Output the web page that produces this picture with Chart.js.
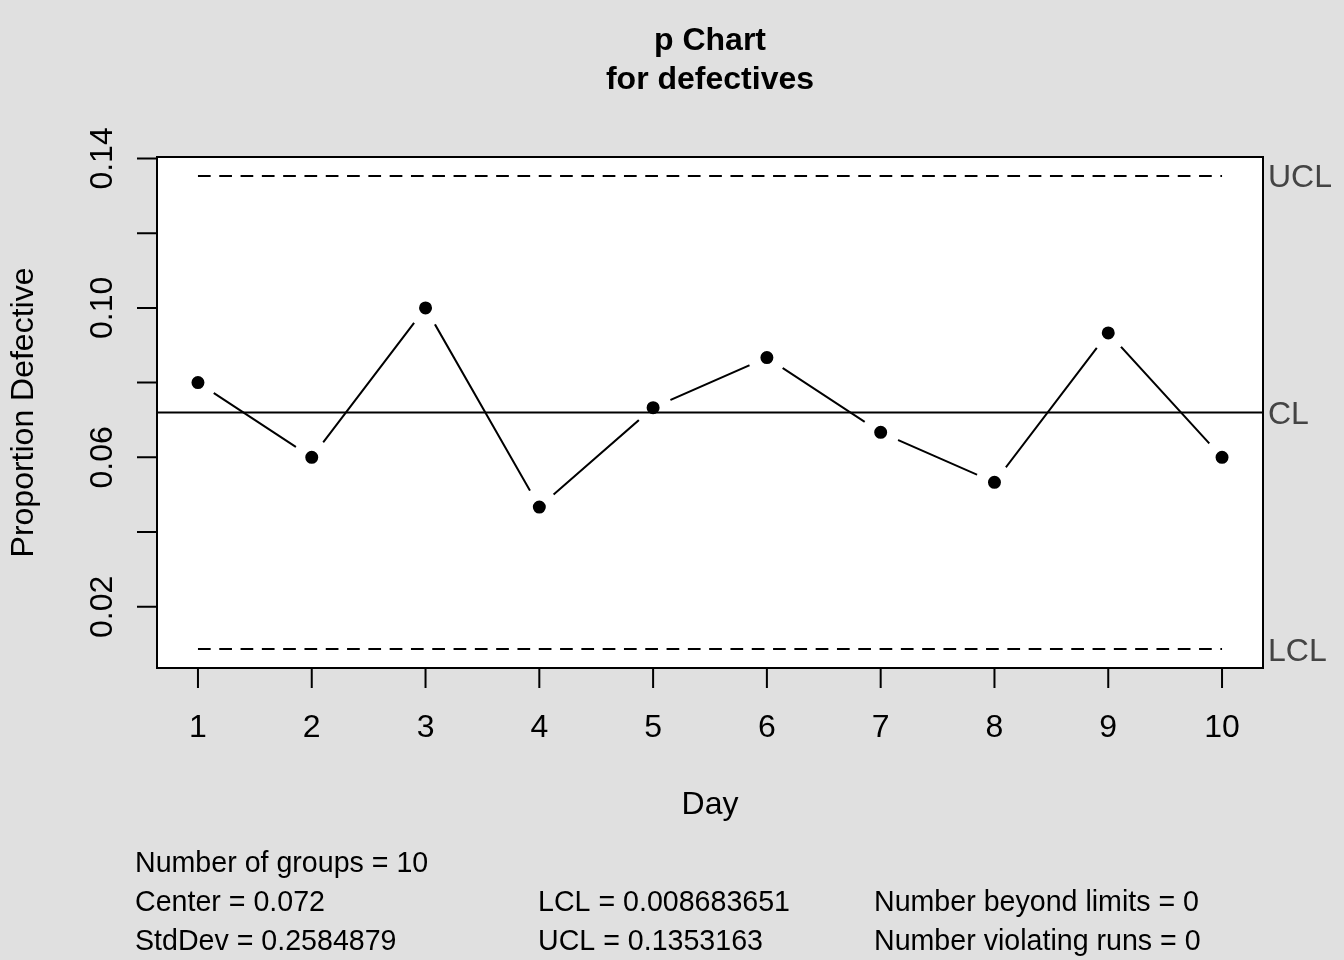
<!DOCTYPE html>
<html>
<head>
<meta charset="utf-8">
<title>p Chart for defectives</title>
<script src="https://cdn.jsdelivr.net/npm/chart.js@4.4.1/dist/chart.umd.min.js"></script>
<style>
  html, body { margin: 0; padding: 0; background: #e0e0e0; }
  canvas { display: block; }
</style>
</head>
<body>
<canvas id="pChart" width="1344" height="960"></canvas>
<script>
// values
const days = [1, 2, 3, 4, 5, 6, 7, 8, 9, 10];
const proportions = [0.0800, 0.0600, 0.1000, 0.0467, 0.0733, 0.0867, 0.0667, 0.0533, 0.0933, 0.0600];
const centerLine = 0.072;
const lowerLimit = 0.008683651;
const upperLimit = 0.1353163;

const yTicks = [0.02, 0.04, 0.06, 0.08, 0.10, 0.12, 0.14];
const yTickLabels = ['0.02', '', '0.06', '', '0.10', '', '0.14'];
const xTickLabels = ['1', '2', '3', '4', '5', '6', '7', '8', '9', '10'];

const limitLabels = ['UCL', 'CL', 'LCL'];
const limitValues = [upperLimit, centerLine, lowerLimit];

const statsCol1 = ['Number of groups = 10', 'Center = 0.072', 'StdDev = 0.2584879'];
const statsCol2 = ['', 'LCL = 0.008683651', 'UCL = 0.1353163'];
const statsCol3 = ['', 'Number beyond limits = 0', 'Number violating runs = 0'];

const FONT = '"Liberation Sans", Arial, Helvetica, sans-serif';

// R-style axes, box, labels and summary text
const baseGraphics = {
  id: 'baseGraphics',
  beforeDatasetsDraw(chart) {
    const { ctx, chartArea: a } = chart;
    ctx.save();
    ctx.fillStyle = '#ffffff';
    ctx.fillRect(a.left, a.top, a.right - a.left, a.bottom - a.top);
    ctx.restore();
  },
  afterDraw(chart) {
    const { ctx, chartArea: a } = chart;
    const xs = chart.scales.x;
    const ys = chart.scales.y;
    const midX = (a.left + a.right) / 2;
    ctx.save();
    ctx.strokeStyle = '#000';
    ctx.fillStyle = '#000';
    ctx.lineWidth = 2;

    // box
    ctx.strokeRect(a.left, a.top, a.right - a.left, a.bottom - a.top);

    // y ticks + rotated labels
    ctx.beginPath();
    yTicks.forEach((v) => {
      const py = ys.getPixelForValue(v);
      ctx.moveTo(a.left - 20, py);
      ctx.lineTo(a.left, py);
    });
    ctx.stroke();
    ctx.font = '32px ' + FONT;
    ctx.textAlign = 'center';
    ctx.textBaseline = 'alphabetic';
    yTicks.forEach((v, i) => {
      if (!yTickLabels[i]) return;
      const py = ys.getPixelForValue(v);
      ctx.save();
      ctx.translate(112, py);
      ctx.rotate(-Math.PI / 2);
      ctx.fillText(yTickLabels[i], 0, 0);
      ctx.restore();
    });

    // x ticks + labels
    ctx.beginPath();
    days.forEach((d) => {
      const px = xs.getPixelForValue(d);
      ctx.moveTo(px, a.bottom);
      ctx.lineTo(px, a.bottom + 20);
    });
    ctx.stroke();
    days.forEach((d, i) => {
      ctx.fillText(xTickLabels[i], xs.getPixelForValue(d), 737);
    });

    // axis titles
    ctx.fillText('Day', midX, 814);
    ctx.save();
    ctx.translate(33, (a.top + a.bottom) / 2);
    ctx.rotate(-Math.PI / 2);
    ctx.fillText('Proportion Defective', 0, 0);
    ctx.restore();

    // main title
    ctx.font = 'bold 32px ' + FONT;
    ctx.fillText('p Chart', midX, 50);
    ctx.fillText('for defectives', midX, 89);

    // limit labels on the right
    ctx.font = '32px ' + FONT;
    ctx.textAlign = 'left';
    ctx.fillStyle = '#444444';
    limitLabels.forEach((t, i) => {
      ctx.fillText(t, a.right + 5, ys.getPixelForValue(limitValues[i]) + 11.5);
    });

    // summary statistics
    ctx.fillStyle = '#000';
    ctx.font = '28.6px ' + FONT;
    const rows = [872, 911, 950];
    rows.forEach((y, i) => {
      ctx.fillText(statsCol1[i], 135, y);
      if (statsCol2[i]) ctx.fillText(statsCol2[i], 538, y);
      if (statsCol3[i]) ctx.fillText(statsCol3[i], 874, y);
    });
    ctx.restore();
  },
};

const xMin = 0.64, xMax = 10.36;
const ctx = document.getElementById('pChart').getContext('2d');
new Chart(ctx, {
  type: 'scatter',
  data: {
    datasets: [
      {
        label: 'Proportion',
        data: days.map((d, i) => ({ x: d, y: proportions[i] })),
        showLine: true,
        borderColor: '#000',
        borderWidth: 2,
        // white ring leaves the gap round each point, like R's type = "b"
        pointRadius: 12.75,
        pointBorderWidth: 12.5,
        pointBackgroundColor: '#000',
        pointBorderColor: '#fff',
        order: 1,
      },
      {
        label: 'CL',
        data: [{ x: xMin, y: centerLine }, { x: xMax, y: centerLine }],
        showLine: true,
        borderColor: '#000',
        borderWidth: 2,
        pointRadius: 0,
        order: 0,
      },
      {
        label: 'UCL',
        data: [{ x: days[0], y: upperLimit }, { x: days[days.length - 1], y: upperLimit }],
        showLine: true,
        borderColor: '#000',
        borderWidth: 2,
        borderDash: [12.7, 8.6],
        pointRadius: 0,
        order: 0,
      },
      {
        label: 'LCL',
        data: [{ x: days[0], y: lowerLimit }, { x: days[days.length - 1], y: lowerLimit }],
        showLine: true,
        borderColor: '#000',
        borderWidth: 2,
        borderDash: [12.7, 8.6],
        pointRadius: 0,
        order: 0,
      },
    ],
  },
  options: {
    responsive: false,
    devicePixelRatio: 1,
    animation: false,
    events: [],
    layout: { padding: { left: 157, right: 81, top: 157, bottom: 292 } },
    plugins: {
      legend: { display: false },
      tooltip: { enabled: false },
      title: { display: false },
    },
    scales: {
      x: { type: 'linear', min: xMin, max: xMax, display: false },
      y: { type: 'linear', min: 0.003618, max: 0.140381, display: false },
    },
  },
  plugins: [baseGraphics],
});
</script>
</body>
</html>
